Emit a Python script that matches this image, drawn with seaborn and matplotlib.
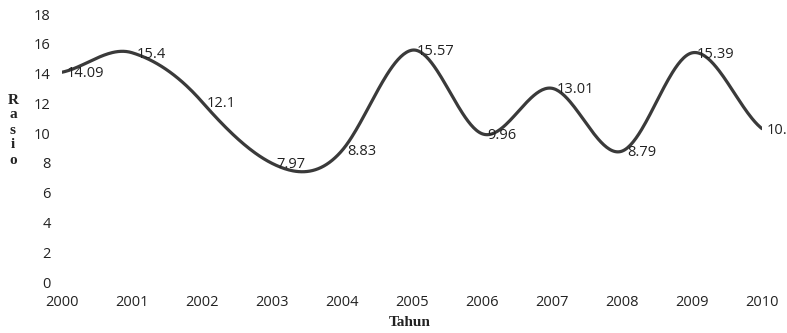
import numpy as np
import pandas as pd
import matplotlib
matplotlib.use("Agg")
import matplotlib.pyplot as plt
import seaborn as sns

years = [2000, 2001, 2002, 2003, 2004, 2005, 2006, 2007, 2008, 2009, 2010]
rasio = [14.09, 15.4, 12.1, 7.97, 8.83, 15.57, 9.96, 13.01, 8.79, 15.39, 10.3]
labels = ["14.09", "15.4", "12.1", "7.97", "8.83", "15.57", "9.96", "13.01", "8.79", "15.39", "10.3"]
yticks = [0, 2, 4, 6, 8, 10, 12, 14, 16, 18]

sns.set_theme(style="white")
plt.rcParams['font.family'] = ['Open Sans', 'DejaVu Sans']

def smooth(xs, ys, k=0.24, n=50):
    xs = np.asarray(xs, float); ys = np.asarray(ys, float)
    px, py = [], []
    m = len(xs)
    for i in range(m - 1):
        y0 = ys[i-1] if i > 0 else ys[i]
        x1, y1 = xs[i], ys[i]
        x2, y2 = xs[i+1], ys[i+1]
        y3 = ys[i+2] if i + 2 < m else ys[i+1]
        c1y = y1 + (y2 - y0) * k
        c2y = y2 - (y3 - y1) * k
        t = np.linspace(0, 1, n, endpoint=(i == m - 2))
        b0 = (1-t)**3; b1 = 3*(1-t)**2*t; b2 = 3*(1-t)*t**2; b3 = t**3
        px.extend(x1 + (x2 - x1) * t)
        py.extend(b0*y1 + b1*c1y + b2*c2y + b3*y2)
    return np.array(px), np.array(py)

sx, sy = smooth(years, rasio)
df = pd.DataFrame({"x": sx, "y": sy})

fig = plt.figure(figsize=(7.87, 3.33), dpi=100)
ax = fig.add_axes([62/787, 1 - 282/333, 700/787, 268/333])
sns.lineplot(data=df, x="x", y="y", ax=ax, color="#3a3a3a", linewidth=2.3, sort=False)

for x, y, lab in zip(years, rasio, labels):
    ax.annotate(lab, (x, y), xytext=(3.5, -1), textcoords="offset points",
                ha="left", va="center", fontsize=10.5, color="#222222",
                annotation_clip=False)

ax.set_xlim(2000, 2010)
ax.set_ylim(0, 18)
ax.set_xticks(years)
ax.set_xticklabels([str(y) for y in years], fontsize=10.5, color="#222222")
ax.set_yticks(yticks)
ax.set_yticklabels([str(v) for v in yticks], fontsize=10.5, color="#222222")
ax.tick_params(axis="x", pad=9, length=0)
ax.tick_params(axis="y", pad=8, length=0)
for s in ax.spines.values():
    s.set_visible(False)
ax.grid(False)
ax.set_xlabel("")
ax.set_ylabel("")

fig.text(410/787, 1 - 322/333, "Tahun", ha="center", va="center",
         fontsize=11, fontweight="bold", family=["Liberation Serif"], color="#222222")
fig.text(13/787, 1 - 130/333, "R\na\ns\ni\no", ha="center", va="center",
         fontsize=11, fontweight="bold", family=["Liberation Serif"], color="#222222",
         linespacing=1.2)

fig.savefig("out.png", dpi=100)
